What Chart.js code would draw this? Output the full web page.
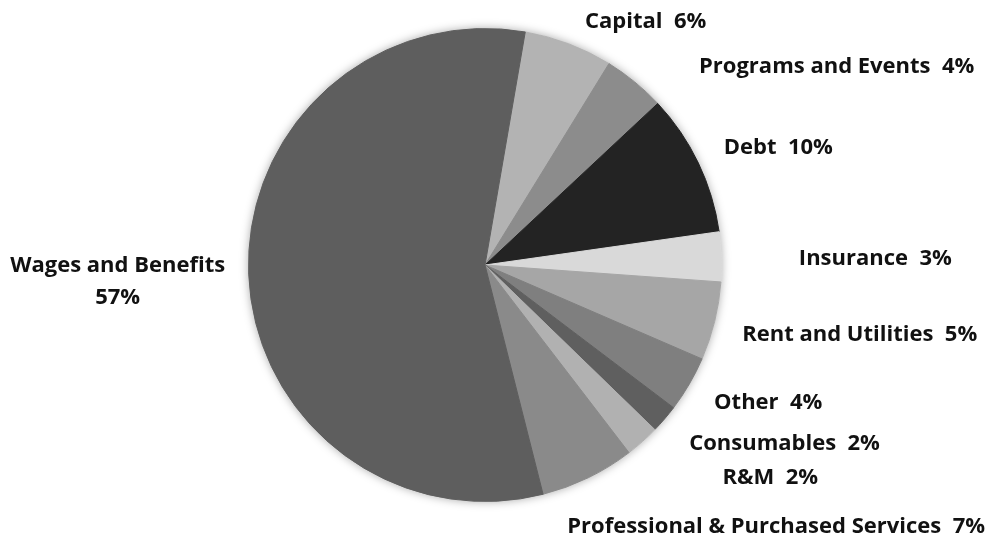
<!DOCTYPE html>
<html>
<head>
<meta charset="utf-8">
<script src="https://cdn.jsdelivr.net/npm/chart.js@4"></script>
<style>
  html, body { margin: 0; padding: 0; background: #ffffff; }
  #wrap { width: 988px; height: 539px; position: relative; }
</style>
</head>
<body>
<div id="wrap"><canvas id="c" width="988" height="539"></canvas></div>
<script>
// ---- data ----
const categories = [
  "Capital", "Programs and Events", "Debt", "Insurance", "Rent and Utilities",
  "Other", "Consumables", "R&M", "Professional & Purchased Services", "Wages and Benefits"
];
const shares = [6.06, 4.25, 9.72, 3.39, 5.36, 3.81, 1.94, 2.33, 6.47, 56.67];
const percentLabels = ["6%", "4%", "10%", "3%", "5%", "4%", "2%", "2%", "7%", "57%"];

// ---- styling (kept separate from data) ----
const sliceColors = ["#b3b3b3", "#8c8c8c", "#232323", "#d9d9d9", "#a6a6a6",
                     "#7f7f7f", "#5f5f5f", "#b1b1b1", "#8a8a8a", "#5e5e5e"];
// label nudges relative to the point on the outer edge at each slice's mid-angle
const labelNudge = [[77, -22], [202, -15], [80, -15], [154, 2], [145, 13],
                    [79, 19], [120, 25], [128, 36], [188, 49], [-131, 8]];
const labelTwoLine = [false, false, false, false, false, false, false, false, false, true];
const FONT = "bold 22px 'Open Sans'";

const shadowPlugin = {
  id: 'pieShadow',
  beforeDatasetsDraw(chart) {
    const arc = chart.getDatasetMeta(0).data[0];
    if (!arc) return;
    const ctx = chart.ctx;
    ctx.save();
    ctx.beginPath();
    ctx.arc(arc.x, arc.y, arc.outerRadius, 0, Math.PI * 2);
    ctx.shadowColor = 'rgba(0,0,0,0.35)';
    ctx.shadowBlur = 10;
    ctx.fillStyle = '#ffffff';
    ctx.fill();
    ctx.restore();
  }
};

const labelPlugin = {
  id: 'outerLabels',
  afterDatasetsDraw(chart) {
    const ctx = chart.ctx;
    const meta = chart.getDatasetMeta(0);
    ctx.save();
    ctx.font = FONT;
    ctx.fillStyle = '#111111';
    ctx.textAlign = 'center';
    ctx.textBaseline = 'middle';
    meta.data.forEach((arc, i) => {
      const mid = (arc.startAngle + arc.endAngle) / 2;
      const px = arc.x + Math.cos(mid) * arc.outerRadius + labelNudge[i][0];
      const py = arc.y + Math.sin(mid) * arc.outerRadius + labelNudge[i][1];
      if (labelTwoLine[i]) {
        ctx.fillText(categories[i], px, py - 16);
        ctx.fillText(percentLabels[i], px, py + 16);
      } else {
        ctx.fillText(categories[i] + "  " + percentLabels[i], px, py);
      }
    });
    ctx.restore();
  }
};

new Chart(document.getElementById('c'), {
  type: 'pie',
  data: {
    labels: categories,
    datasets: [{
      data: shares,
      backgroundColor: sliceColors,
      borderColor: sliceColors,
      borderWidth: 1
    }]
  },
  options: {
    responsive: false,
    animation: false,
    rotation: 9.8,
    layout: { padding: { top: 28, bottom: 37, left: 248, right: 266 } },
    plugins: { legend: { display: false }, tooltip: { enabled: false } }
  },
  plugins: [shadowPlugin, labelPlugin]
});
</script>
</body>
</html>
